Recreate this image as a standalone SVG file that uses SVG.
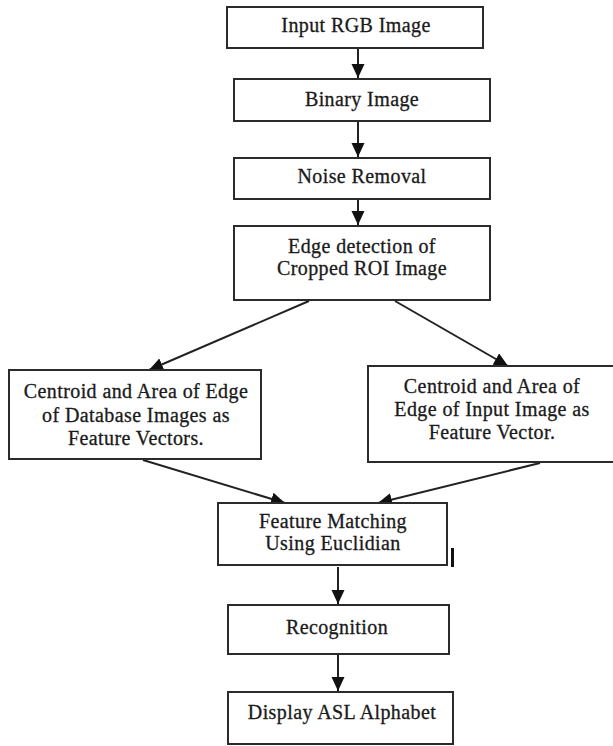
<svg xmlns="http://www.w3.org/2000/svg" width="613" height="746" viewBox="0 0 613 746">
<style>
.box{fill:#fff;stroke:#2b2b2b;stroke-width:2}
.t{font-family:'Liberation Serif','Times New Roman','DejaVu Serif',serif;font-size:20px;letter-spacing:0.4px;fill:#1a1a1a;stroke:#1a1a1a;stroke-width:0.3;text-anchor:middle}
.c{stroke:#222;stroke-width:2;fill:none;marker-end:url(#ah)}
</style>
<defs>
<marker id="ah" markerUnits="userSpaceOnUse" markerWidth="16" markerHeight="14" refX="14" refY="6.5" orient="auto">
<path d="M0,0 L14,6.5 L0,13 Z" fill="#111"/>
</marker>
</defs>
<rect width="613" height="746" fill="#fff"/>
<g id="connectors">
<line class="c" x1="358" y1="49" x2="358" y2="78"/>
<line class="c" x1="358" y1="122" x2="358" y2="157"/>
<line class="c" x1="358" y1="200" x2="358" y2="225"/>
<line class="c" x1="309" y1="301" x2="149" y2="370"/>
<line class="c" x1="395" y1="301" x2="508" y2="366"/>
<line class="c" x1="143" y1="460" x2="285" y2="503"/>
<line class="c" x1="540" y1="463" x2="378" y2="503"/>
<line class="c" x1="338" y1="567" x2="338" y2="604"/>
<line class="c" x1="338" y1="655" x2="338" y2="691"/>
<line x1="452.5" y1="548" x2="452.5" y2="567" stroke="#111" stroke-width="3"/>
</g>
<g id="n1"><rect class="box" x="227" y="7" width="256" height="41"/><text class="t" x="356" y="32">Input RGB Image</text></g>
<g id="n2"><rect class="box" x="234" y="79" width="256" height="42"/><text class="t" x="362" y="106">Binary Image</text></g>
<g id="n3"><rect class="box" x="234" y="158" width="256" height="41"/><text class="t" x="362" y="183">Noise Removal</text></g>
<g id="n4"><rect class="box" x="234" y="226" width="256" height="74"/><text class="t" x="362" y="253">Edge detection of</text><text class="t" x="362" y="275">Cropped ROI Image</text></g>
<g id="n5"><rect class="box" x="9" y="370" width="252" height="89"/><text class="t" x="136" y="398">Centroid and Area of Edge</text><text class="t" x="136" y="422">of Database Images as</text><text class="t" x="136" y="445">Feature Vectors.</text></g>
<g id="n6"><rect class="box" x="368" y="366" width="250" height="96"/><text class="t" x="492" y="393">Centroid and Area of</text><text class="t" x="492" y="416">Edge of Input Image as</text><text class="t" x="492" y="439">Feature Vector.</text></g>
<g id="n7"><rect class="box" x="218" y="503" width="229" height="62"/><text class="t" x="333" y="528">Feature Matching</text><text class="t" x="333" y="550">Using Euclidian</text></g>
<g id="n8"><rect class="box" x="228" y="605" width="221" height="49"/><text class="t" x="337" y="634">Recognition</text></g>
<g id="n9"><rect class="box" x="228" y="692" width="225" height="52"/><text class="t" x="342" y="719">Display ASL Alphabet</text></g>
</svg>
